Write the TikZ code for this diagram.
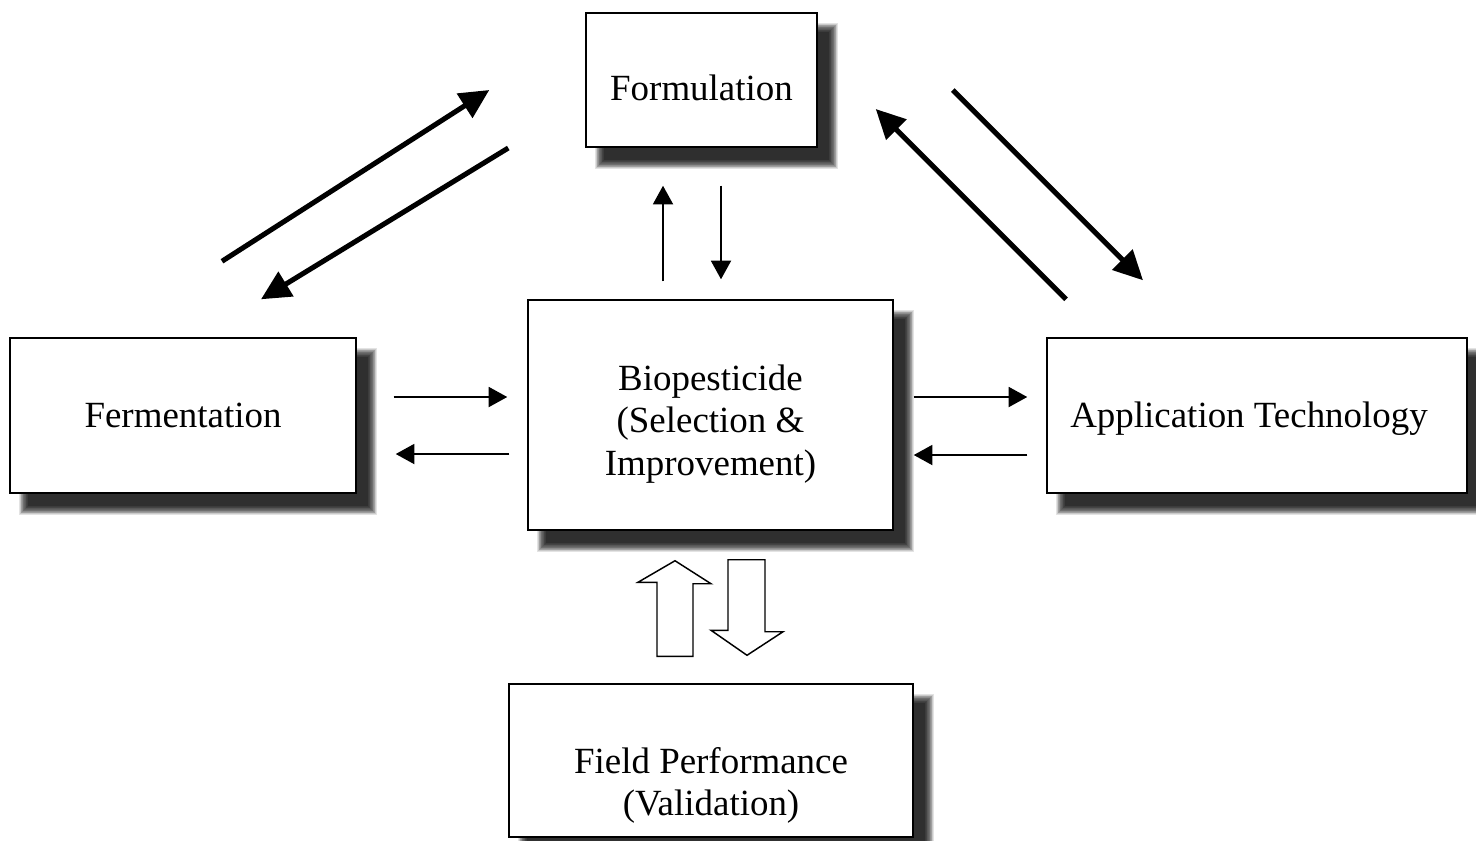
\documentclass[tikz,border=0pt]{standalone}
\usepackage{fontspec}
\setmainfont{Liberation Serif}
\usetikzlibrary{arrows.meta,calc,backgrounds}
\newcommand{\boxshadow}[1]{%
  \foreach \k in {0,...,13}{%
    \fill[black, opacity=0.11] ($(#1.north west)+(10+\k*0.7,11+\k*0.7)$) rectangle ($(#1.south east)+(20-\k*0.7,21-\k*0.7)$);
  }}
\begin{document}
\begin{tikzpicture}[x=0.75pt,y=-0.75pt,
  box/.style={draw=black, line width=1.1pt, fill=white, inner sep=0pt},
  lbl/.style={font=\fontsize{27.7}{31.9}\selectfont, align=center, inner sep=0pt},
  thinarrow/.style={line width=1.5pt, -{Triangle[length=14pt,width=15pt]}},
  thickarrow/.style={line width=3.8pt, -{Triangle[length=22pt,width=21pt]}},
  blockarrow/.style={draw=black, line width=1.1pt, fill=white, line join=miter},
]
\useasboundingbox (0,0) rectangle (1476,840);

% boxes
\node[box, minimum width=173.25pt, minimum height=100.5pt] (form) at (701.5,80) {};
\node[box, minimum width=273.75pt, minimum height=172.5pt] (bio) at (710.5,415) {};
\node[box, minimum width=259.5pt, minimum height=116.25pt] (ferm) at (183,415.5) {};
\node[box, minimum width=315pt, minimum height=116.25pt] (app) at (1257,415.5) {};
\node[box, minimum width=303pt, minimum height=114.75pt] (field) at (711,760.5) {};

% texts
\node[lbl] (formtxt) at ($(form.center)+(0,8)$) {Formulation};
\node[lbl] (biotxt) at ($(bio.center)+(0,9)$) {Biopesticide\\(Selection \&\\Improvement)};
\node[lbl] (fermtxt) at ($(ferm.center)+(0,0)$) {Fermentation};
\node[lbl] (apptxt) at ($(app.center)+(-8,3)$) {Application Technology};
\node[lbl] (fieldtxt) at ($(field.center)+(0,25)$) {Field Performance\\(Validation)};

% shadows
\begin{scope}[on background layer]
  \fill[white] (0,0) rectangle (1476,840);
  \boxshadow{form}
  \boxshadow{bio}
  \boxshadow{ferm}
  \boxshadow{app}
  \boxshadow{field}
\end{scope}

% thin arrows
\draw[thinarrow] ($(ferm.east)+(37,-18.5)$) -- ($(bio.west)+(-20,-18)$);
\draw[thinarrow] ($(bio.west)+(-18,39)$) -- ($(ferm.east)+(39,38.5)$);
\draw[thinarrow] ($(bio.east)+(20,-18)$) -- ($(app.west)+(-19,-18.5)$);
\draw[thinarrow] ($(app.west)+(-19,39.5)$) -- ($(bio.east)+(20,40)$);
\draw[thinarrow] ($(bio.north)+(-47.5,-18)$) -- ($(form.south)+(-38.5,38)$);
\draw[thinarrow] ($(form.south)+(19.5,38)$) -- ($(bio.north)+(10.5,-20)$);

% thick arrows
\draw[thickarrow] ($(ferm.north)+(39,-76)$) -- ($(form.west)+(-96,10)$);
\draw[thickarrow] ($(form.west)+(-77,68)$) -- ($(ferm.north)+(78,-38)$);
\draw[thickarrow] ($(app.north)+(-191,-38)$) -- ($(form.east)+(58,29)$);
\draw[thickarrow] ($(form.east)+(135,10)$) -- ($(app.north)+(-114,-57)$);

% block arrows
\draw[blockarrow] ($(field.north)+(-54,-27)$) -- ++(0,-74) -- ++(-19,0) -- ($(bio.south)+(-35.5,30)$) -- ++(36,23) -- ++(-18,0) -- ($(field.north)+(-18,-27)$) -- cycle;
\draw[blockarrow] ($(bio.south)+(17.5,29)$) -- ++(37,0) -- ++(0,72) -- ++(18,0) -- ($(field.north)+(36,-28)$) -- ++(-36,-25) -- ++(17,0) -- cycle;
\end{tikzpicture}
\end{document}
